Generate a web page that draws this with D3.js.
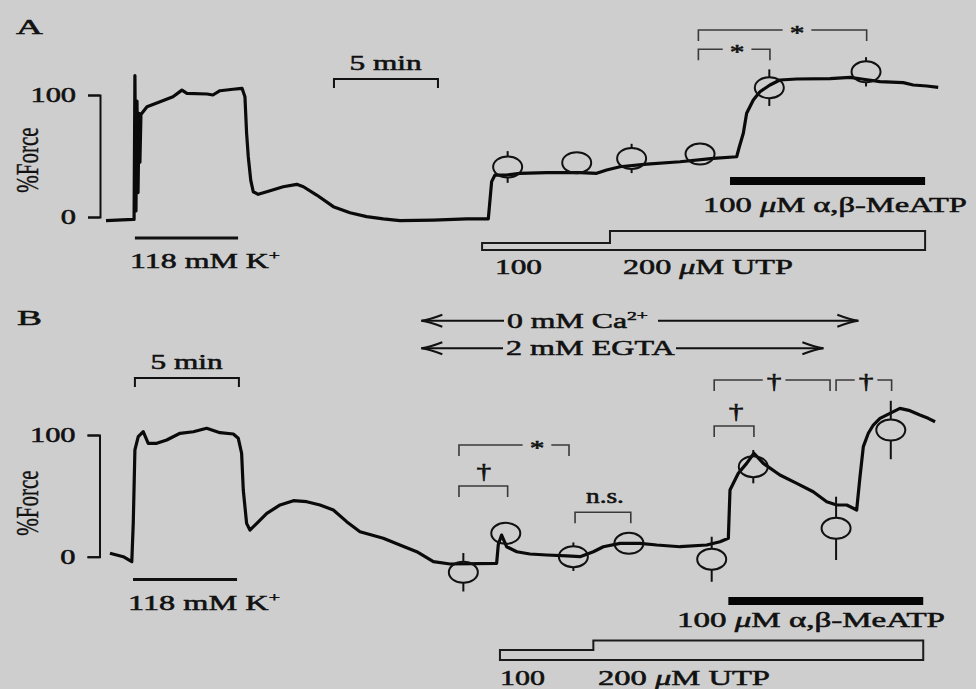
<!DOCTYPE html>
<html>
<head>
<meta charset="utf-8">
<script src="https://cdn.jsdelivr.net/npm/d3@7"></script>
<style>
  html, body { margin: 0; padding: 0; background: #cecece; }
  svg { display: block; }
  text { font-family: "Liberation Serif", "Times New Roman", serif; fill: #111; stroke: #111; stroke-width: 0.55px; }
</style>
</head>
<body>
<svg id="fig" width="976" height="689"></svg>
<script>
// ---- Panel A: force trace, [time (min), % force] ----
const traceA = [
  [0,-3],[1.30,-2],[1.35,-2],[1.39,116],[1.44,5],[1.49,95],[1.54,20],[1.59,85],[1.63,45],[1.68,84],
  [1.97,90.4],[2.60,94.5],[3.22,98.6],[3.65,104],[3.89,101.4],[4.86,100.8],[5.14,100],[5.48,103.5],
  [6.11,104.7],[6.54,105.5],[6.68,98.6],[6.76,68.6],[6.84,49.4],[6.96,30],[7.08,20.7],[7.32,18.6],
  [7.73,20.7],[8.52,24.8],[9.17,26.8],[9.49,24.8],[10.13,18],[10.93,8.5],[11.73,3.5],[12.53,0.3],
  [13.33,-1.6],[14.13,-3],[15.74,-2.5],[17.34,-1.6],[18.38,-1.6],[18.54,29],[18.70,34.4],[19.26,34.4],
  [19.90,35.8],[21.19,36.3],[22.79,36.3],[23.59,35.8],[24.07,38.5],[24.71,41.2],[26.00,43.4],
  [27.60,45.3],[29.20,48.1],[30.32,49.4],[30.45,57.6],[30.64,68.6],[30.80,85],[31.12,95.9],
  [31.44,102.7],[31.92,108.2],[32.40,112.3],[33.21,113.1],[34.81,113.4],[35.77,114.5],[36.41,112.9],
  [37.21,110.9],[38.33,110.1],[38.81,108.2],[39.46,107.4],[40.01,106.3]
];
// mean responses: [time (min), mean % force, s.e.m.]
const meansA = [[19.31,41,13],[22.63,44.5,5],[25.27,48,12],[28.56,51.6,5],[31.89,106,15],[36.54,119,12]];
// significance brackets: [from, to, level (% force), symbol, symbol time, inline]
const bracketsA = [
  [28.48, 36.57, 153.3, "*", 33.22, true],
  [28.48, 31.92, 137.5, "*", 30.34, true]
];
const potassiumA = [1.39, 6.35];
const meatpA = [30.0, 39.38];
const utpA = [18.08, 24.23, 39.38];    // 100 µM from, 200 µM from, end
const scaleBarA = [10.96, 15.96];      // 5 min

// ---- Panel B: force trace in Ca2+-free solution ----
const traceB = [
  [0.19,2.8],[0.51,1.4],[0.83,0],[1.24,-4.1],[1.31,27.4],[1.39,87.7],[1.55,98.6],[1.79,102.7],
  [2.03,93.2],[2.44,93.2],[2.92,95.9],[3.56,101.4],[4.20,102.7],[4.84,105.5],[5.48,101.9],[6.12,100.8],
  [6.36,97.3],[6.52,85],[6.60,54.8],[6.76,27.4],[6.92,21.9],[7.25,27.4],[7.73,35.6],[8.37,42.5],
  [9.01,46],[9.65,45.2],[10.29,42.5],[10.93,38.4],[11.57,28.8],[12.21,20.5],[13.33,15.1],[14.13,9.6],
  [14.94,4.1],[15.74,-4.1],[16.54,-6],[18.78,-5.5],[18.86,10],[19.02,17.8],[19.26,8.2],[19.75,4.1],
  [20.38,2.2],[21.19,1.4],[22.15,0.6],[22.79,0],[23.43,4.1],[23.91,8.2],[24.71,11],[25.67,11],
  [26.48,9.6],[27.60,8.2],[28.88,9.6],[29.52,12.3],[29.92,15.1],[30.00,54.8],[30.16,60.3],[30.40,68.5],
  [30.80,76.7],[31.15,85],[31.60,76.7],[32.40,67.1],[33.21,60.3],[34.00,53.4],[34.65,45.2],[35.13,42.5],
  [35.61,42.5],[36.09,38.4],[36.25,65.7],[36.41,90.4],[36.65,101.4],[36.89,108.2],[37.21,113.7],
  [37.69,117.8],[38.17,121.9],[38.65,120],[39.13,116.4],[39.53,113.7],[39.86,110.9]
];
const meansB = [[17.18,-12.8,15.8],[19.22,19.2,4],[22.47,0,11.7],[25.14,11,4],[29.12,-2.1,18.5],
                [31.12,74,13.7],[35.10,23.3,26],[37.73,104.1,24]];
const bracketsB = [
  [16.97, 19.31, 58.1, "\u2020", 18.16, false],
  [16.97, 22.26, 91.8, "*", 20.72, true],
  [22.55, 25.23, 36.5, "n.s.", 23.99, false],
  [29.24, 31.15, 107.4, "\u2020", 30.29, false],
  [29.24, 34.81, 145.2, "\u2020", 32.12, true],
  [35.10, 37.77, 145.2, "\u2020", 36.54, true]
];
const potassiumB = [1.30, 6.30];
const meatpB = [29.92, 39.29];
const utpB = [18.94, 23.43, 39.29];
const scaleBarB = [1.39, 6.39];
const calciumFree = [15.16, 36.17];
const egta = [15.16, 34.49];
const yTicks = [0, 100];

const svg = d3.select("#fig");
svg.append("rect").attr("width", 976).attr("height", 689).attr("fill", "#cecece");

const x = d3.scaleLinear().domain([0, 40]).range([106, 938]);
const ink = "#111";

// Text stretched horizontally to a given width (or by a fixed factor).
// Parts: plain strings, {sup: ...} for superscripts, {it: ...} for italic glyphs.
function label(parent, parts, px, py, width, opts = {}) {
  const t = parent.append("text").attr("font-size", opts.size || 21);
  parts.forEach(p => {
    if (typeof p === "string") t.append("tspan").text(p);
    else if (p.it) t.append("tspan").attr("font-style", "italic").text(p.it);
    else t.append("tspan").attr("font-size", p.size || 13).attr("dy", p.dy || -8).text(p.sup);
  });
  const bb = t.node().getBBox();
  const w = width || bb.width * (opts.stretch || 1.5);
  const s = w / bb.width;
  const x0 = opts.anchor === "middle" ? px - w / 2 : px;
  t.attr("transform", `translate(${x0 - bb.x * s},${py}) scale(${s},1)`);
  return { left: x0, right: x0 + w };
}

function forceAxis(g, y, axisX, labelY) {
  const ax = g.append("g").attr("transform", `translate(${axisX},0)`)
    .call(d3.axisLeft(y).tickValues(yTicks).tickSize(12).tickSizeOuter(12));
  ax.select(".domain").attr("stroke", ink).attr("stroke-width", 2);
  ax.selectAll(".tick line").attr("stroke", ink).attr("stroke-width", 2);
  ax.selectAll(".tick text")
    .attr("font-family", "Liberation Serif, serif").attr("font-size", 21).attr("fill", ink)
    .attr("x", -16.5).attr("dy", "0.32em").attr("transform", "scale(1.45,1)");
  g.append("text").attr("font-size", 21).attr("text-anchor", "middle").style("stroke-width", "0.3px")
    .attr("transform", `translate(38,${labelY}) scale(1.5,1) rotate(-90)`).text("%Force");
}

function trace(g, data, y) {
  g.append("path").datum(data)
    .attr("fill", "none").attr("stroke", "#0a0a0a").attr("stroke-width", 3.2)
    .attr("stroke-linejoin", "round")
    .attr("d", d3.line().x(d => x(d[0])).y(d => y(d[1])));
}

function means(g, data, y) {
  const rx = 14.5, ry = 10.5;
  const m = g.selectAll(null).data(data).enter().append("g");
  m.append("ellipse").attr("cx", d => x(d[0])).attr("cy", d => y(d[1]))
    .attr("rx", rx).attr("ry", ry).attr("fill", "none").attr("stroke", ink).attr("stroke-width", 2);
  m.each(function (d) {
    const cx = x(d[0]), cy = y(d[1]);
    const top = y(d[1] + d[2]), bot = y(d[1] - d[2]);
    const sel = d3.select(this);
    if (cy - top > ry) sel.append("line").attr("x1", cx).attr("x2", cx).attr("y1", top).attr("y2", cy - ry)
      .attr("stroke", ink).attr("stroke-width", 2);
    if (bot - cy > ry) sel.append("line").attr("x1", cx).attr("x2", cx).attr("y1", cy + ry).attr("y2", bot)
      .attr("stroke", ink).attr("stroke-width", 2);
  });
}

function brackets(g, data, y) {
  const drop = 11;
  const line = (d) => g.append("path").attr("d", d).attr("stroke", "#3a3a3a")
    .attr("stroke-width", 1.6).attr("fill", "none");
  data.forEach(([a, b, lev, sym, at, inline]) => {
    const x1 = x(a), x2 = x(b), yt = y(lev), xs = x(at);
    if (inline) {
      const yb = sym === "*" ? yt + 10 : yt + 8;
      const lb = label(g, [sym], xs, yb, null, { anchor: "middle", size: 21, stretch: 1.4 });
      const pad = sym === "*" ? 7 : 4;
      line(`M${x1},${yt + drop}V${yt}H${lb.left - pad}`);
      line(`M${lb.right + pad},${yt}H${x2}V${yt + drop}`);
    } else {
      line(`M${x1},${yt + drop}V${yt}H${x2}V${yt + drop}`);
      label(g, [sym], xs, sym === "n.s." ? yt - 9 : yt - 8, null,
        { anchor: "middle", size: 21, stretch: sym === "n.s." ? 1.3 : 1.4 });
    }
  });
}

function scaleBar(g, span, yTop) {
  g.append("path").attr("d", `M${x(span[0])},${yTop + 9}V${yTop}H${x(span[1])}V${yTop + 9}`)
    .attr("stroke", ink).attr("stroke-width", 2).attr("fill", "none");
  label(g, ["5 min"], (x(span[0]) + x(span[1])) / 2, yTop - 9, 73, { anchor: "middle" });
}

function utpBox(g, steps, yLow, yHigh, yBot) {
  const [a, b, c] = steps.map(x);
  g.append("path").attr("d", `M${a},${yLow}H${b}V${yHigh}H${c}V${yBot}H${a}Z`)
    .attr("fill", "none").attr("stroke", "#1a1a1a").attr("stroke-width", 2);
}

const meatpText = ["100 ", { it: "\u03BC" }, "M \u03B1,\u03B2-MeATP"];
const utpText = ["200 ", { it: "\u03BC" }, "M UTP"];

// ================= Panel A =================
const gA = svg.append("g");
const yA = d3.scaleLinear().domain([0, 100]).range([217, 95]);
label(gA, ["A"], 16, 34, 27, { size: 22 });
forceAxis(gA, yA, 100, 160);
scaleBar(gA, scaleBarA, 79);
brackets(gA, bracketsA, yA);
trace(gA, traceA, yA);
means(gA, meansA, yA);
gA.append("line").attr("x1", x(potassiumA[0])).attr("x2", x(potassiumA[1])).attr("y1", 238).attr("y2", 238)
  .attr("stroke", ink).attr("stroke-width", 3);
label(gA, ["118 mM K", { sup: "+", size: 13, dy: -8 }], 130, 268, 150);
gA.append("rect").attr("x", x(meatpA[0])).attr("width", x(meatpA[1]) - x(meatpA[0]))
  .attr("y", 177).attr("height", 8).attr("fill", "#050505");
label(gA, meatpText, 703, 212, 264);
utpBox(gA, utpA, 243, 231, 250);
label(gA, ["100"], 495, 274, 47);
label(gA, utpText, 623, 274, 170);

// ================= Panel B =================
const gB = svg.append("g");
const yB = d3.scaleLinear().domain([0, 100]).range([556.7, 435]);
label(gB, ["B"], 17, 325, 25, { size: 22 });
forceAxis(gB, yB, 99.5, 503);
scaleBar(gB, scaleBarB, 378);

// solution-change arrows
function solutionArrow(g, span, yLine, parts, textLeft, textWidth, gapRight) {
  const tip0 = x(span[0]), tip1 = x(span[1]);
  const lb = label(g, parts, textLeft, yLine + 7, textWidth);
  const st = (p) => p.attr("stroke", ink).attr("stroke-width", 2).attr("fill", "none");
  st(g.append("path").attr("d", `M${tip0},${yLine}H${lb.left - 3}`));
  st(g.append("path").attr("d", `M${lb.right + gapRight},${yLine}H${tip1}`));
  st(g.append("path").attr("d", `M${tip0 + 21},${yLine - 6}Q${tip0 + 8},${yLine - 1} ${tip0},${yLine}Q${tip0 + 8},${yLine + 1} ${tip0 + 21},${yLine + 6}`));
  st(g.append("path").attr("d", `M${tip1 - 21},${yLine - 6}Q${tip1 - 8},${yLine - 1} ${tip1},${yLine}Q${tip1 - 8},${yLine + 1} ${tip1 - 21},${yLine + 6}`));
}
solutionArrow(gB, calciumFree, 320.7, ["0 mM Ca", { sup: "2+", size: 13, dy: -8 }], 507, 141, 10);
solutionArrow(gB, egta, 348.3, ["2 mM EGTA"], 506, 170, 0);

brackets(gB, bracketsB, yB);
trace(gB, traceB, yB);
means(gB, meansB, yB);
gB.append("line").attr("x1", x(potassiumB[0])).attr("x2", x(potassiumB[1])).attr("y1", 579.5).attr("y2", 579.5)
  .attr("stroke", ink).attr("stroke-width", 3);
label(gB, ["118 mM K", { sup: "+", size: 13, dy: -8 }], 128, 610, 152);
gB.append("rect").attr("x", x(meatpB[0])).attr("width", x(meatpB[1]) - x(meatpB[0]))
  .attr("y", 597).attr("height", 8).attr("fill", "#050505");
label(gB, meatpText, 677, 627, 268);
utpBox(gB, utpB, 650, 640.5, 660);
label(gB, ["100"], 500, 685, 45);
label(gB, utpText, 598, 685, 172);
</script>
</body>
</html>
